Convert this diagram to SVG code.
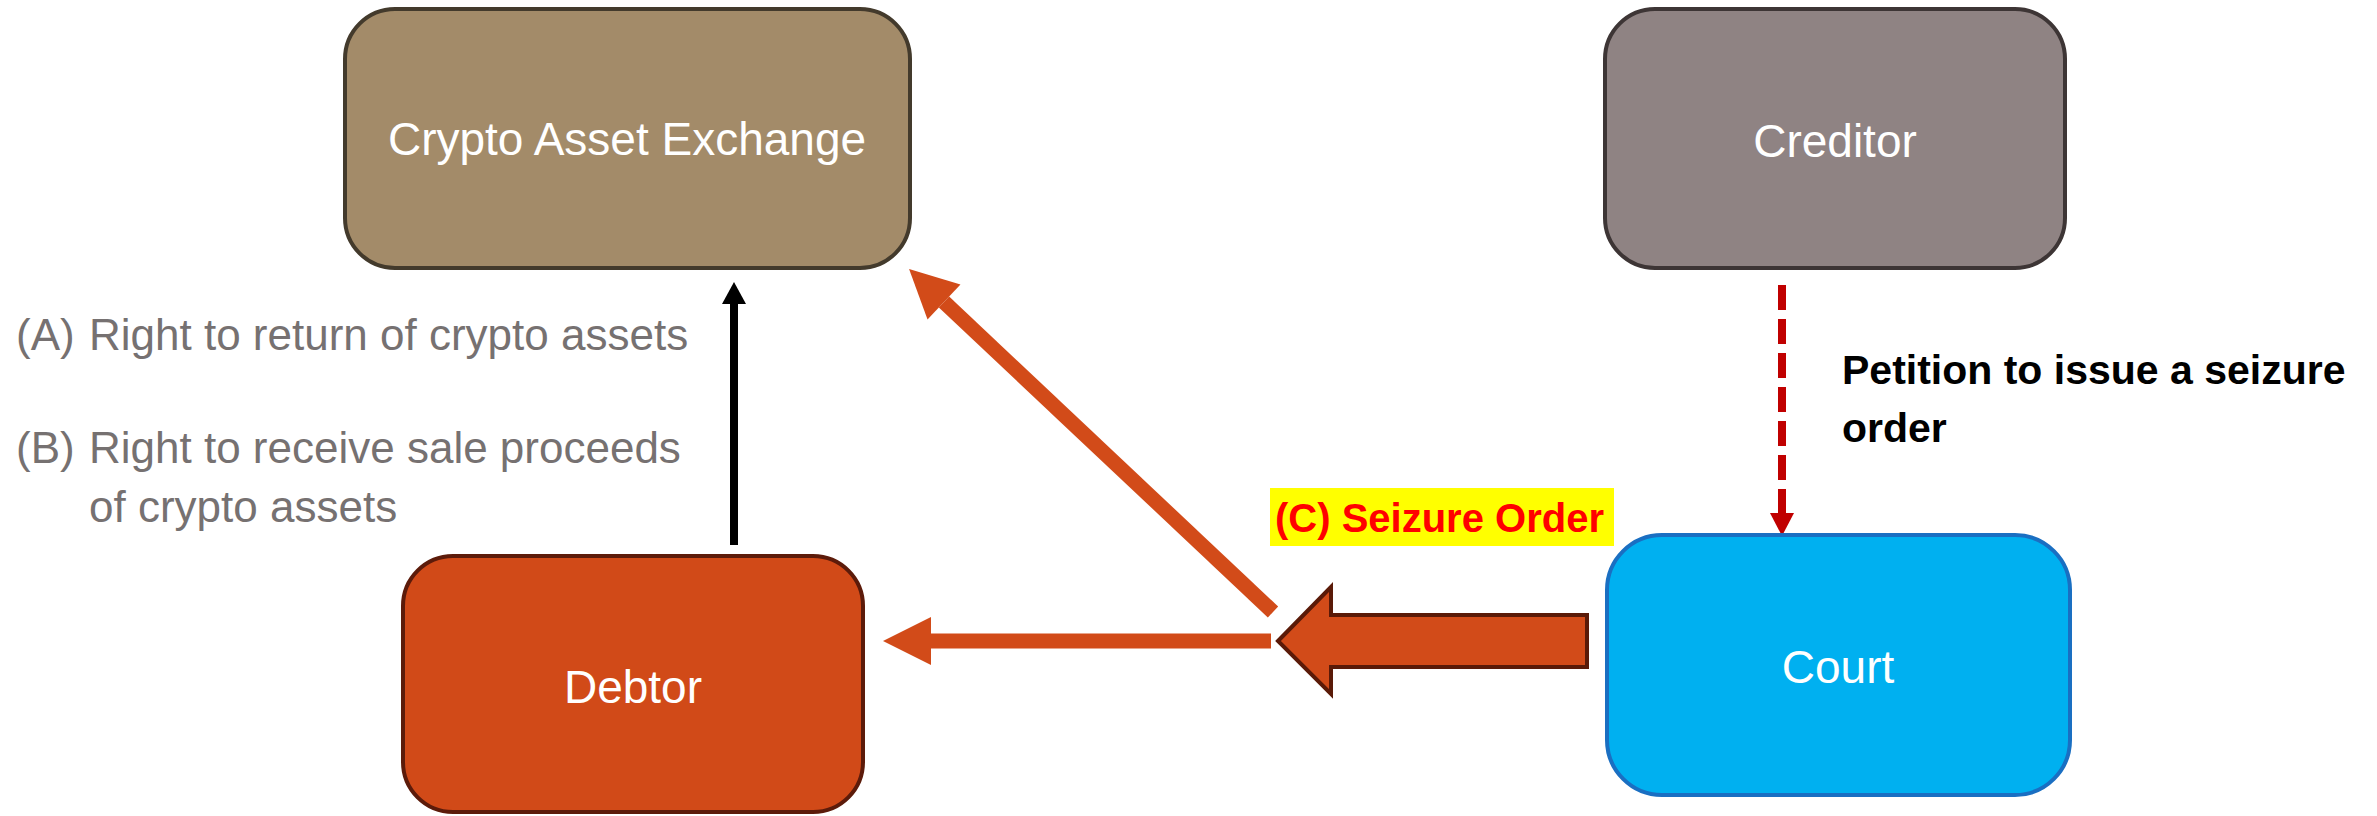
<svg xmlns="http://www.w3.org/2000/svg" width="2377" height="816" viewBox="0 0 2377 816">
<style>
.node rect{stroke-width:4}
.lbl{font-family:"Liberation Sans",Arial,sans-serif;font-size:46px;fill:#ffffff;text-anchor:middle}
.note{font-family:"Liberation Sans",Arial,sans-serif;font-size:44px;fill:#767171}
.bold{font-family:"Liberation Sans",Arial,sans-serif;font-weight:bold}
.orange{stroke:#d24b19;stroke-width:15;fill:none}
</style>
<defs>
<marker id="oh" markerUnits="userSpaceOnUse" markerWidth="50" markerHeight="50" refX="0" refY="24" orient="auto" overflow="visible">
<path d="M0,0 L48,24 L0,48 z" fill="#d24b19"/>
</marker>
<marker id="bh" markerUnits="userSpaceOnUse" markerWidth="30" markerHeight="30" refX="0" refY="12" orient="auto" overflow="visible">
<path d="M0,0 L22,12 L0,24 z" fill="#000000"/>
</marker>
<marker id="rh" markerUnits="userSpaceOnUse" markerWidth="30" markerHeight="30" refX="0" refY="12" orient="auto" overflow="visible">
<path d="M0,0 L23,12 L0,24 z" fill="#c00000"/>
</marker>
</defs>
<rect width="2377" height="816" fill="#ffffff"/>

<g id="connectors">
<line x1="734" y1="545" x2="734" y2="304" stroke="#000000" stroke-width="8" marker-end="url(#bh)"/>
<line x1="1782" y1="285" x2="1782" y2="513" stroke="#c00000" stroke-width="8" stroke-dasharray="25 9" marker-end="url(#rh)"/>
<line class="orange" x1="1273" y1="612" x2="944" y2="302" marker-end="url(#oh)"/>
<line class="orange" x1="1271" y1="641" x2="931" y2="641" marker-end="url(#oh)"/>
<polygon points="1278,641 1331,587 1331,615 1587,615 1587,667 1331,667 1331,694" fill="#d24b19" stroke="#5a1a08" stroke-width="4"/>
</g>

<g id="exchange" class="node">
<rect x="345" y="9" width="565" height="259" rx="50" fill="#a38b69" stroke="#433a2c"/>
<text class="lbl" x="627" y="155">Crypto Asset Exchange</text>
</g>
<g id="creditor" class="node">
<rect x="1605" y="9" width="460" height="259" rx="50" fill="#8f8383" stroke="#3d3535"/>
<text class="lbl" x="1835" y="157">Creditor</text>
</g>
<g id="debtor" class="node">
<rect x="403" y="556" width="460" height="256" rx="50" fill="#d14a18" stroke="#5c1b0a"/>
<text class="lbl" x="633" y="703">Debtor</text>
</g>
<g id="court" class="node">
<rect x="1607" y="535" width="463" height="260" rx="55" fill="#00b0f0" stroke="#1a6fc2"/>
<text class="lbl" x="1838" y="683">Court</text>
</g>

<g id="labels">
<text class="note" x="16" y="350">(A)</text>
<text class="note" x="89" y="350">Right to return of crypto assets</text>
<text class="note" x="16" y="463">(B)</text>
<text class="note" x="89" y="463">Right to receive sale proceeds</text>
<text class="note" x="89" y="522">of crypto assets</text>
<text class="bold" x="1842" y="384" font-size="41" fill="#000000">Petition to issue a seizure</text>
<text class="bold" x="1842" y="442" font-size="41" fill="#000000">order</text>
<rect x="1270" y="488" width="344" height="58" fill="#ffff00"/>
<text class="bold" x="1275" y="532" font-size="40" fill="#ff0000">(C) Seizure Order</text>
</g>
</svg>
